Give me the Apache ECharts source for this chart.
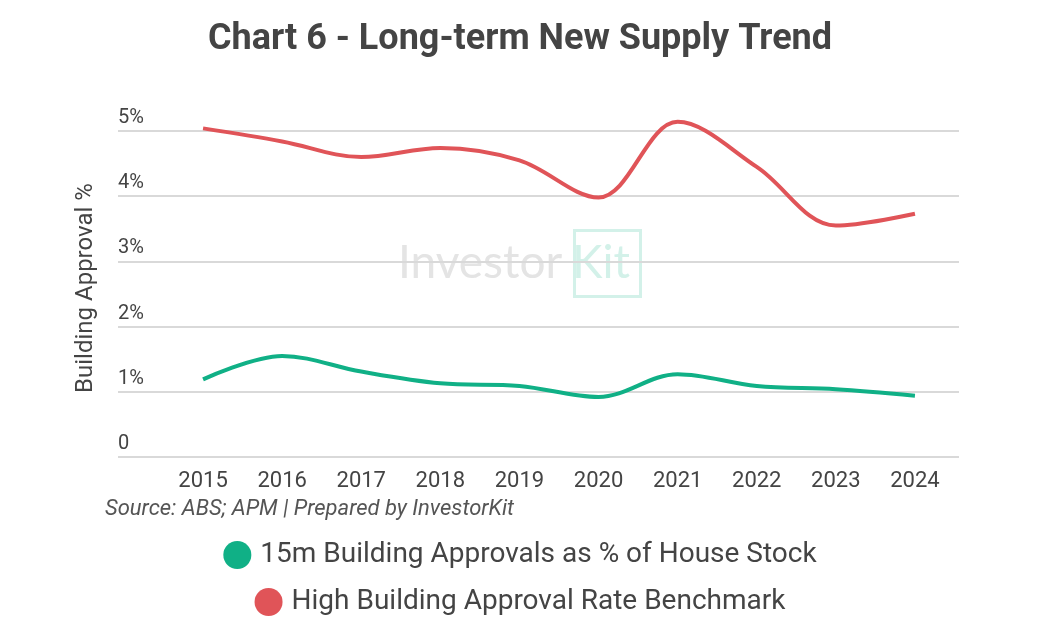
<!DOCTYPE html>
<html>
<head>
<meta charset="utf-8">
<script src="https://cdn.jsdelivr.net/npm/echarts@6/dist/echarts.min.js"></script>
<style>
html,body{margin:0;padding:0;background:#fff;}
#chart{width:1040px;height:640px;}
</style>
</head>
<body>
<div id="chart"></div>
<script>
const years = ['2015','2016','2017','2018','2019','2020','2021','2022','2023','2024'];
const approvalsPct = [1.19, 1.55, 1.31, 1.13, 1.09, 0.92, 1.27, 1.09, 1.04, 0.94];
const benchmarkPct = [5.04, 4.84, 4.60, 4.74, 4.55, 3.98, 5.14, 4.45, 3.55, 3.73];
const yTicks = [0, 1, 2, 3, 4, 5];
const seriesNames = ['15m Building Approvals as % of House Stock', 'High Building Approval Rate Benchmark'];
const colors = ['#10b086', '#e05458'];

const chart = echarts.init(document.getElementById('chart'));
const FONT = 'Roboto';
const option = {
  animation: false,
  backgroundColor: '#ffffff',
  title: {
    text: 'Chart 6 - Long-term New Supply Trend',
    left: 'center', top: 17,
    textStyle: {fontFamily: FONT, fontWeight: 'bold', fontSize: 36, color: '#444444'}
  },
  legend: [
    {
      data: [seriesNames[0]], left: 'center', top: 536, icon: 'circle',
      itemWidth: 28, itemHeight: 28, itemGap: 14,
      textStyle: {fontFamily: FONT, fontSize: 28, color: '#444444', padding: [0,0,0,4]}
    },
    {
      data: [seriesNames[1]], left: 'center', top: 583, icon: 'circle',
      itemWidth: 28, itemHeight: 28, itemGap: 14,
      textStyle: {fontFamily: FONT, fontSize: 28, color: '#444444', padding: [0,0,0,4]}
    }
  ],
  grid: [
    {left: 163.5, right: 85.5, top: 131, bottom: 183},
    {left: 118, right: 81, top: 131, bottom: 183}
  ],
  xAxis: [
    {
      type: 'category', data: years, gridIndex: 0, boundaryGap: true,
      axisLine: {show: false}, axisTick: {show: false},
      axisLabel: {fontFamily: FONT, fontSize: 22, color: '#444444', margin: 13}
    },
    {type: 'value', gridIndex: 1, min: 0, max: 1, show: false}
  ],
  yAxis: [
    {type: 'value', gridIndex: 0, min: yTicks[0], max: yTicks[yTicks.length-1], interval: 1, show: false, splitLine: {show: false}},
    {
      type: 'value', gridIndex: 1, min: yTicks[0], max: yTicks[yTicks.length-1], interval: 1,
      axisLine: {show: false}, axisTick: {show: false},
      splitLine: {lineStyle: {color: '#d9d9d9', width: 2}},
      axisLabel: {
        inside: true, margin: 0, fontFamily: FONT, fontSize: 20, color: '#444444',
        verticalAlign: 'bottom', align: 'left', padding: [0,0,3,0],
        formatter: v => v === 0 ? '0' : v + '%'
      }
    }
  ],
  graphic: [
    {
      type: 'text', left: 398, top: 240, z: -10, silent: true,
      style: {text: 'Investor', fontFamily: 'Lato', fontWeight: 'normal', fontSize: 46, fill: '#e4e4e4'}
    },
    {
      type: 'rect', z: -10, silent: true,
      shape: {x: 574.5, y: 230.5, width: 66, height: 66},
      style: {fill: 'none', stroke: '#d3f1e9', lineWidth: 3}
    },
    {
      type: 'text', left: 572, top: 240, z: -10, silent: true,
      style: {text: 'Kit', fontFamily: 'Lato', fontWeight: 'normal', fontSize: 46, fill: '#d3f1e9'}
    },
    {
      type: 'text', x: 86, y: 288, rotation: Math.PI / 2, silent: true,
      style: {text: 'Building Approval %', fontFamily: FONT, fontSize: 24, fill: '#444444', align: 'center', verticalAlign: 'middle'}
    },
    {
      type: 'text', left: 105, top: 498, silent: true,
      style: {text: 'Source: ABS; APM | Prepared by InvestorKit', fontFamily: FONT, fontStyle: 'italic', fontSize: 22, fill: '#555555'}
    }
  ],
  series: [
    {
      name: seriesNames[0], type: 'line', data: approvalsPct, xAxisIndex: 0, yAxisIndex: 0,
      smooth: 0.35, symbol: 'none', clip: false, color: colors[0],
      lineStyle: {width: 4, color: colors[0]}, z: 5
    },
    {
      name: seriesNames[1], type: 'line', data: benchmarkPct, xAxisIndex: 0, yAxisIndex: 0,
      smooth: 0.35, symbol: 'none', clip: false, color: colors[1],
      lineStyle: {width: 4, color: colors[1]}, z: 5
    }
  ]
};
chart.setOption(option);
</script>
</body>
</html>
